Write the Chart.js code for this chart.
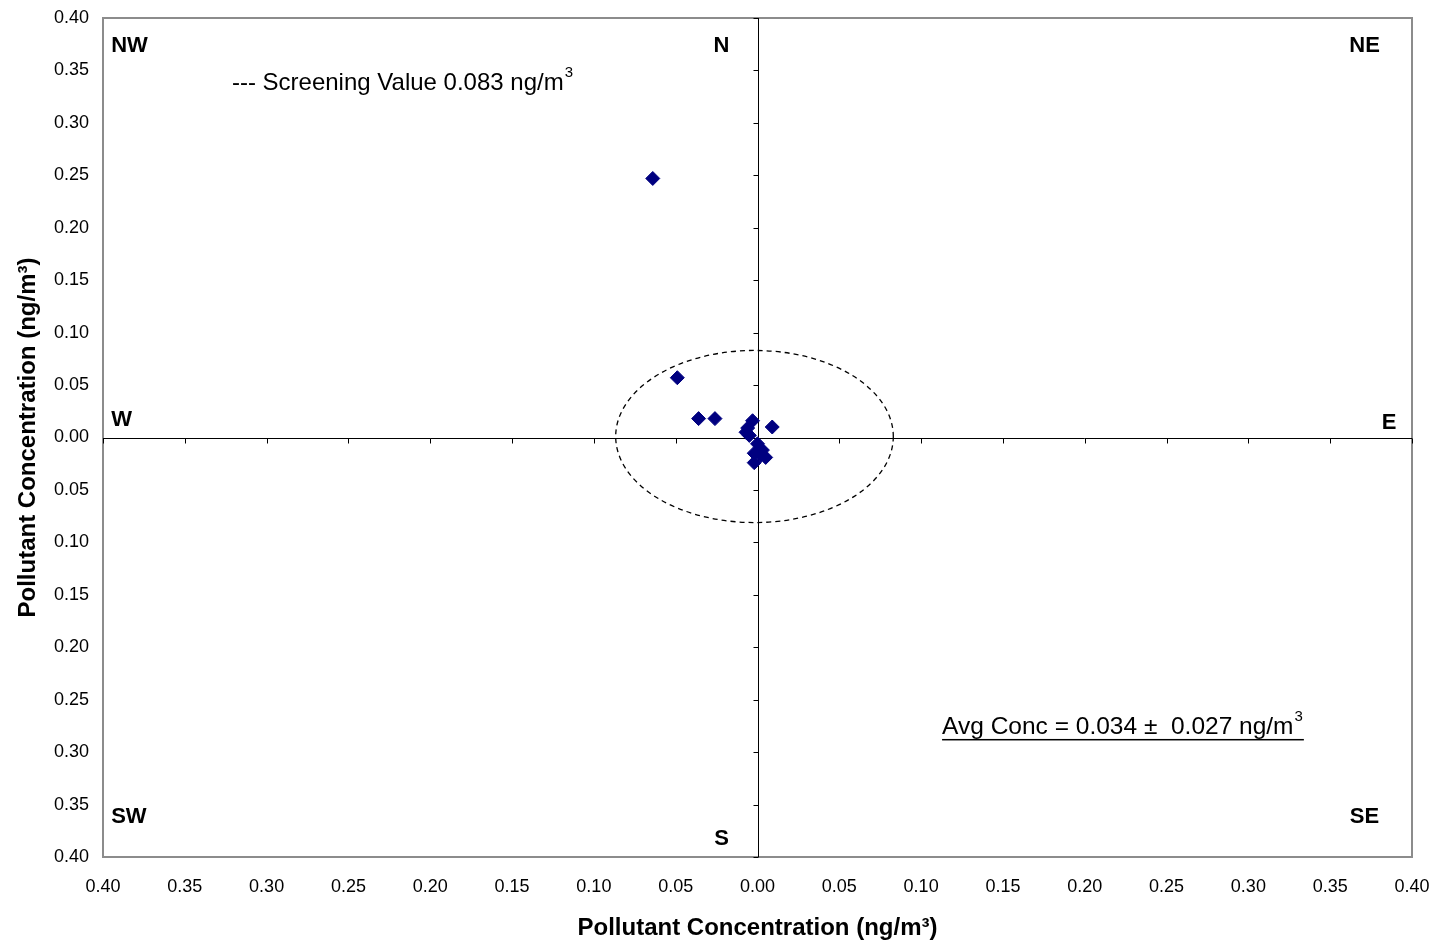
<!DOCTYPE html>
<html>
<head>
<meta charset="utf-8">
<script src="https://cdn.jsdelivr.net/npm/chart.js@4.4.1/dist/chart.umd.min.js"></script>
<style>
  html, body { margin:0; padding:0; background:#fff; }
  #wrap { width:1436px; height:943px; }
</style>
</head>
<body>
<div id="wrap"><canvas id="chart" width="1436" height="943"></canvas></div>
<script>
// pollution rose points (x = E/W component, y = N/S component), ng/m3
const pointX = [-0.064, -0.049, -0.036, -0.026, -0.003, 0.009, -0.007, -0.005, -0.006, 0.000, 0.003, -0.002, 0.005, -0.002, 0.002];
const pointY = [ 0.247,  0.057,  0.018,  0.018,  0.016, 0.010,  0.005,  0.002,  0.009, -0.006, -0.012, -0.015, -0.019, -0.024, -0.017];

const axisMin = -0.4;
const axisMax = 0.4;
const axisStep = 0.05;
const screeningValue = 0.083;

const compassNames = ['NW', 'N', 'NE', 'W', 'E', 'SW', 'S', 'SE'];
const compassX     = [-0.395, -0.022, 0.371, -0.395, 0.386, -0.395, -0.022, 0.371];
const compassY     = [ 0.373,  0.373, 0.373,  0.017, 0.014, -0.362, -0.383, -0.362];

const screeningText = '--- Screening Value 0.083 ng/m';
const avgText       = 'Avg Conc = 0.034 \u00b1  0.027 ng/m';
const axisTitle     = 'Pollutant Concentration (ng/m\u00b3)';

const pts = pointX.map((x, i) => ({ x: x, y: pointY[i] }));

const FAMILY = '"Liberation Sans", Arial, sans-serif';

function textWithSup(ctx, txt, x, y, size, underline) {
  ctx.font = size + 'px ' + FAMILY;
  ctx.textAlign = 'left';
  ctx.textBaseline = 'middle';
  ctx.fillText(txt, x, y);
  const w = ctx.measureText(txt).width;
  ctx.font = Math.round(size * 0.62) + 'px ' + FAMILY;
  ctx.fillText('3', x + w + 1, y - 10);
  const w2 = ctx.measureText('3').width;
  if (underline) {
    ctx.fillRect(x, y + 12, w + w2 + 2, 1.5);
  }
}

const decor = {
  id: 'decor',
  beforeDatasetsDraw(chart) {
    const { ctx, chartArea: a, scales: { x, y } } = chart;
    ctx.save();
    // frame
    ctx.strokeStyle = '#8c8c8c';
    ctx.lineWidth = 2;
    ctx.strokeRect(a.left, a.top, a.right - a.left, a.bottom - a.top);
    // centre axes
    const x0 = Math.round(x.getPixelForValue(0)) + 0.5;
    const y0 = Math.round(y.getPixelForValue(0)) + 0.5;
    ctx.strokeStyle = '#000';
    ctx.lineWidth = 1;
    ctx.beginPath();
    ctx.moveTo(a.left, y0); ctx.lineTo(a.right, y0);
    ctx.moveTo(x0, a.top); ctx.lineTo(x0, a.bottom);
    for (let v = axisMin; v <= axisMax + 1e-9; v += axisStep) {
      const px = Math.round(x.getPixelForValue(v)) + 0.5;
      ctx.moveTo(px, y0); ctx.lineTo(px, y0 + 5);
      const py = Math.round(y.getPixelForValue(v)) + 0.5;
      ctx.moveTo(x0, py); ctx.lineTo(x0 - 5, py);
    }
    ctx.stroke();
    // screening value ellipse
    const cx = x.getPixelForValue(0);
    const cy = y.getPixelForValue(0);
    const rx = x.getPixelForValue(screeningValue) - cx;
    const ry = cy - y.getPixelForValue(screeningValue);
    ctx.setLineDash([5, 4]);
    ctx.lineWidth = 1.3;
    ctx.beginPath();
    ctx.ellipse(cx - 3, cy - 1, rx + 3, ry - 1, 0, 0, Math.PI * 2);
    ctx.stroke();
    ctx.setLineDash([]);
    // compass labels
    ctx.fillStyle = '#000';
    ctx.font = 'bold 22px ' + FAMILY;
    ctx.textBaseline = 'middle';
    compassNames.forEach((n, i) => {
      const left = compassX[i] < -0.39;
      ctx.textAlign = left ? 'left' : 'center';
      ctx.fillText(n, x.getPixelForValue(compassX[i]), y.getPixelForValue(compassY[i]));
    });
    // annotations
    textWithSup(ctx, screeningText, x.getPixelForValue(-0.3212), y.getPixelForValue(0.3379), 24, false);
    textWithSup(ctx, avgText, x.getPixelForValue(0.1128), y.getPixelForValue(-0.276), 24.5, true);
    ctx.restore();
  }
};

const tickFont = { family: FAMILY, size: 18 };
const titleFont = { family: FAMILY, size: 24, weight: 'bold' };

new Chart(document.getElementById('chart').getContext('2d'), {
  type: 'scatter',
  data: {
    datasets: [{
      data: pts,
      pointStyle: 'rectRot',
      pointRadius: 7,
      pointBackgroundColor: '#000080',
      pointBorderColor: '#000080',
      pointBorderWidth: 1
    }]
  },
  options: {
    responsive: false,
    animation: false,
    layout: { padding: { top: 18, right: 24, left: 0, bottom: 0 } },
    plugins: { legend: { display: false }, tooltip: { enabled: false } },
    scales: {
      x: {
        type: 'linear', min: axisMin, max: axisMax,
        grid: { display: false, drawTicks: false },
        border: { display: false },
        ticks: { stepSize: axisStep, color: '#000', font: tickFont, padding: 19,
                 callback: v => Math.abs(v).toFixed(2) },
        title: { display: true, text: axisTitle, color: '#000', font: titleFont, padding: { top: 0, bottom: 0 } },
        afterFit: s => { s.height = 86; s.paddingLeft = 0; s.paddingRight = 0; }
      },
      y: {
        type: 'linear', min: axisMin, max: axisMax,
        grid: { display: false, drawTicks: false },
        border: { display: false },
        ticks: { stepSize: axisStep, color: '#000', font: tickFont, padding: 14,
                 callback: v => Math.abs(v).toFixed(2) },
        title: { display: true, text: axisTitle, color: '#000', font: titleFont, padding: { top: 14, bottom: 0 } },
        afterFit: s => { s.width = 103; s.paddingTop = 0; s.paddingBottom = 0; }
      }
    }
  },
  plugins: [decor]
});
</script>
</body>
</html>
